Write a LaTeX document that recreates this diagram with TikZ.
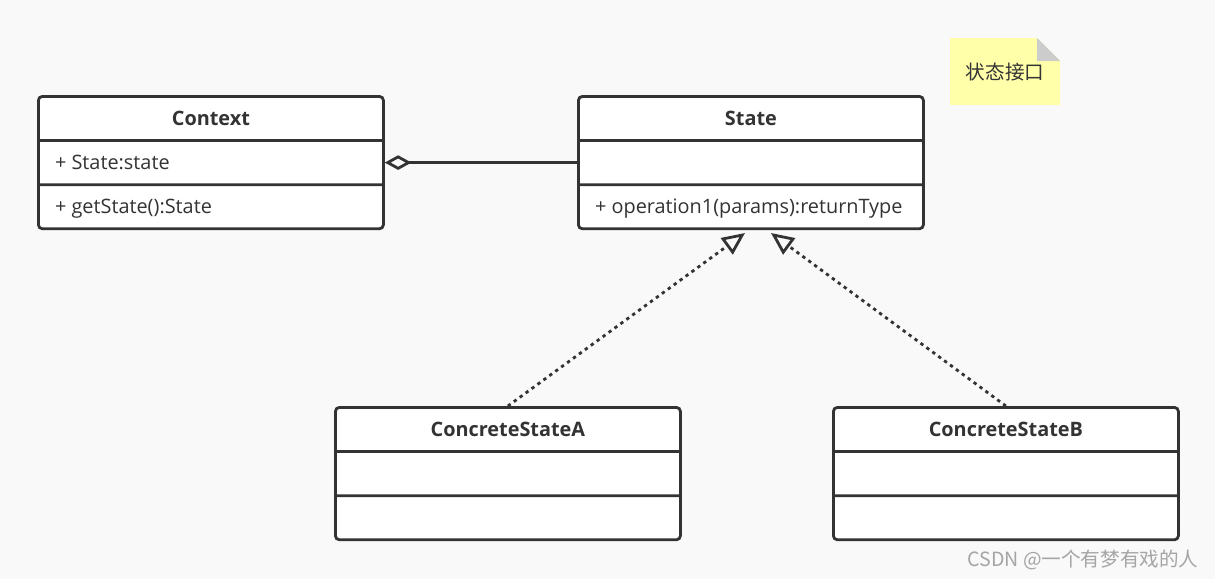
\documentclass[tikz,border=0pt]{standalone}
\usepackage{fontspec}
\setmainfont{Open Sans}
\newfontfamily\cjk{Noto Sans CJK SC}
\usetikzlibrary{shapes.multipart,arrows.meta,positioning,calc}
\definecolor{linegray}{RGB}{51,51,51}
\definecolor{bggray}{RGB}{249,249,249}
\definecolor{noteyellow}{RGB}{255,255,170}
\definecolor{foldgray}{RGB}{204,204,204}
\definecolor{markgray}{RGB}{165,165,165}
\newcommand{\partstrut}{\rule[-10.5pt]{0pt}{31pt}}

\begin{document}
\begin{tikzpicture}[
    x=0.75pt, y=-0.75pt,
    classbox/.style={rectangle split, rectangle split parts=3, draw=linegray, line width=2.1pt, rounded corners=3pt, fill=white, minimum width=258.75pt, inner ysep=0pt, inner xsep=12.5pt, rectangle split part align={center,left,left}, text=linegray, font=\fontsize{14.9}{16}\selectfont, anchor=north west},
    aggr/.style={-{Diamond[open,length=20pt,width=11pt]}, line width=2.1pt, draw=linegray},
    realize/.style={-{Triangle[open,length=17pt,width=15pt]}, line width=2.1pt, draw=linegray, dash pattern=on 2.5pt off 3pt}
]

\fill[bggray] (0,0) rectangle (1215,579);

\node[classbox] (context) at (37,95) {\partstrut\textbf{Context}\nodepart{two}\partstrut+ State:state\nodepart{three}\partstrut+ getState():State};
\node[classbox] (state) at (577,95) {\partstrut\textbf{State}\nodepart{two}\partstrut\nodepart{three}\partstrut+ operation1(params):returnType};
\node[classbox] (concA) at (334,406) {\partstrut\textbf{ConcreteStateA}\nodepart{two}\partstrut\nodepart{three}\partstrut};
\node[classbox] (concB) at (832,406) {\partstrut\textbf{ConcreteStateB}\nodepart{two}\partstrut\nodepart{three}\partstrut};

\draw[aggr] (state.two west) -- (context.two east);

% arrow tips under State
\coordinate (tipA) at (745,233);
\coordinate (tipB) at (771,233);
\draw[realize] (concA.north) -- (tipA);
\draw[realize] (concB.north) -- (tipB);

% note with folded corner
\fill[noteyellow] (950,38) -- (1037,38) -- (1060,61) -- (1060,105) -- (950,105) -- cycle;
\fill[foldgray] (1037,38) -- (1060,61) -- (1037,61) -- cycle;
\node[text=linegray, font=\cjk\fontsize{14.7}{16}\selectfont] (note) at (1005,72) {状态接口};

\node[text=markgray, font=\cjk\fontsize{14.7}{16}\selectfont] (mark) at (1083,560) {CSDN @一个有梦有戏的人};

\end{tikzpicture}
\end{document}
